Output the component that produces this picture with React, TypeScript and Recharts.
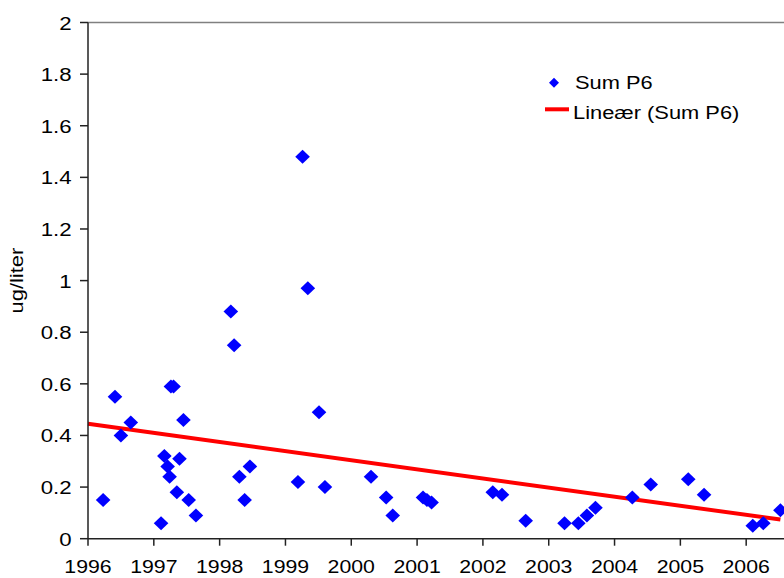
import { ScatterChart, Scatter, XAxis, YAxis, ReferenceLine, Legend } from "recharts";

// sampling dates (decimal years) and Sum P6 concentrations, ug/liter
const dates = [
  1996.23, 1996.41, 1996.5, 1996.65, 1997.11, 1997.16, 1997.21, 1997.24, 1997.26, 1997.3,
  1997.35, 1997.39, 1997.45, 1997.53, 1997.64, 1998.17, 1998.22, 1998.3, 1998.38, 1998.46,
  1999.19, 1999.26, 1999.34, 1999.51, 1999.6, 2000.3, 2000.53, 2000.63, 2001.09, 2001.15,
  2001.22, 2002.15, 2002.29, 2002.65, 2003.24, 2003.45, 2003.58, 2003.71, 2004.27, 2004.55,
  2005.12, 2005.36, 2006.1, 2006.26, 2006.52,
];
const sumP6 = [
  0.15, 0.55, 0.4, 0.45, 0.06, 0.32, 0.28, 0.24, 0.59, 0.59,
  0.18, 0.31, 0.46, 0.15, 0.09, 0.88, 0.75, 0.24, 0.15, 0.28,
  0.22, 1.48, 0.97, 0.49, 0.2, 0.24, 0.16, 0.09, 0.16, 0.15,
  0.14, 0.18, 0.17, 0.07, 0.06, 0.06, 0.09, 0.12, 0.16, 0.21,
  0.23, 0.17, 0.05, 0.06, 0.11,
];

// linear trend end points (Lineær (Sum P6))
const trendX = [1996, 2006.52];
const trendY = [0.445, 0.074];

const yearTicks = [1996, 1997, 1998, 1999, 2000, 2001, 2002, 2003, 2004, 2005, 2006];
const valueTicks = [0, 0.2, 0.4, 0.6, 0.8, 1, 1.2, 1.4, 1.6, 1.8, 2];

const points = dates.map((x, i) => ({ x, y: sumP6[i] }));

const FONT = '"Liberation Sans", Arial, sans-serif';

const Diamond = (props: any) => {
  const { cx, cy } = props;
  const w = 7.3;
  const h = 7;
  return <path d={`M${cx},${cy - h}L${cx + w},${cy}L${cx},${cy + h}L${cx - w},${cy}Z`} fill="#0000ff" />;
};

const XTick = ({ x, y, payload }: any) => (
  <g transform={`translate(${x},${y})`}>
    <text x={0} y={0} dy={27.5} textAnchor="middle" fontSize={19} fontFamily={FONT} fill="#000" transform="scale(1.12,1)">
      {payload.value}
    </text>
  </g>
);

const YTick = ({ x, y, payload }: any) => (
  <g transform={`translate(${x},${y})`}>
    <text x={0} y={0} dy={7} textAnchor="end" fontSize={19} fontFamily={FONT} fill="#000" transform="scale(1.17,1)">
      {payload.value}
    </text>
  </g>
);

const YTitle = ({ viewBox }: any) => {
  const cy = viewBox.y + viewBox.height / 2;
  return (
    <g transform={`translate(23,${cy}) rotate(-90) scale(1.15,1)`}>
      <text x={0} y={0} textAnchor="middle" fontSize={19} fontFamily={FONT} fill="#000">
        ug/liter
      </text>
    </g>
  );
};

const LegendBox = () => (
  <svg width={220} height={70}>
    <path d="M14,12.7L19,17.7L14,22.7L9,17.7Z" fill="#0000ff" />
    <g transform="translate(35,24.3) scale(1.15,1)">
      <text fontSize={19} fontFamily={FONT} fill="#000">Sum P6</text>
    </g>
    <line x1={5} x2={29} y1={44.3} y2={44.3} stroke="#ff0000" strokeWidth={4} />
    <g transform="translate(33,54.3) scale(1.15,1)">
      <text fontSize={19} fontFamily={FONT} fill="#000">Lineær (Sum P6)</text>
    </g>
  </svg>
);

export default function App() {
  return (
    <div style={{ position: "absolute", left: 0, top: 0, width: 784, height: 578, overflow: "hidden", background: "#fff" }}>
      <ScatterChart width={832} height={578} margin={{ top: 22.5, right: 20, bottom: 0, left: 0 }}>
        <XAxis
          type="number"
          dataKey="x"
          domain={[1996, 2007]}
          ticks={yearTicks}
          interval={0}
          allowDataOverflow
          height={39.3}
          tickSize={7}
          tickMargin={0}
          axisLine={{ stroke: "#222", strokeWidth: 1.5 }}
          tickLine={{ stroke: "#222", strokeWidth: 1.5 }}
          tick={<XTick />}
        />
        <YAxis
          type="number"
          dataKey="y"
          domain={[0, 2]}
          ticks={valueTicks}
          interval={0}
          width={88}
          tickSize={8}
          tickMargin={8.5}
          axisLine={{ stroke: "#222", strokeWidth: 1.5 }}
          tickLine={{ stroke: "#222", strokeWidth: 1.5 }}
          tick={<YTick />}
          label={{ content: <YTitle /> }}
        />
        <ReferenceLine y={2} stroke="#808080" strokeWidth={1.5} />
        <ReferenceLine
          segment={[
            { x: trendX[0], y: trendY[0] },
            { x: trendX[1], y: trendY[1] },
          ]}
          stroke="#ff0000"
          strokeWidth={4}
          ifOverflow="visible"
        />
        <Scatter data={points} shape={<Diamond />} isAnimationActive={false} />
        <Legend
          layout="vertical"
          align="center"
          verticalAlign="middle"
          content={<LegendBox />}
          wrapperStyle={{ left: 540, top: 65, width: 220, height: 70 }}
        />
      </ScatterChart>
    </div>
  );
}
